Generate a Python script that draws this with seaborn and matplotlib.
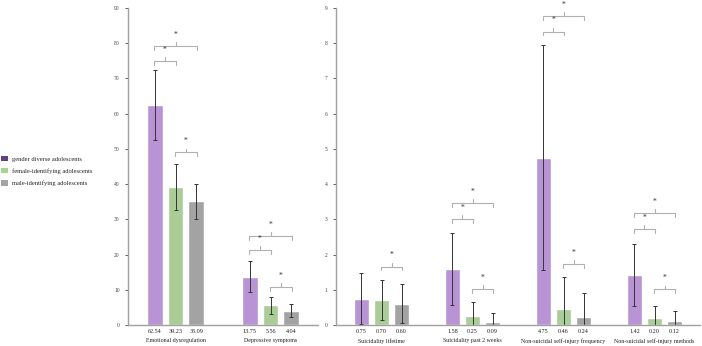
import numpy as np
import pandas as pd
import matplotlib
matplotlib.use("Agg")
import matplotlib.pyplot as plt
import seaborn as sns
from matplotlib.patches import Patch

# groups and colours
groups = ["gender diverse adolescents", "female-identifying adolescents", "male-identifying adolescents"]
bar_colors = ["#b98ade", "#a8d58e", "#a3a3a3"]
legend_colors = ["#5e4380", "#a8d58e", "#a3a3a3"]

# left panel
left_cats = ["Emotional dysregulation", "Depressive symptoms"]
left_means = [[62.54, 13.75], [39.23, 5.56], [35.09, 4.04]]
left_sd = [[9.9, 4.45], [6.55, 2.5], [4.9, 1.9]]

# right panel
right_cats = ["Suicidality lifetime", "Suicidality past 2 weeks",
              "Non-suicidal self-injury frequency", "Non-suicidal self-injury methods"]
right_means = [[0.75, 1.58, 4.75, 1.42], [0.70, 0.25, 0.46, 0.20], [0.60, 0.09, 0.24, 0.12]]
right_sd = [[0.72, 1.02, 3.19, 0.89], [0.57, 0.40, 0.91, 0.35], [0.55, 0.25, 0.67, 0.28]]

# significance brackets: (category index, group a, group b, height)
left_brackets = [(0, 0, 1, 75.0), (0, 0, 2, 79.2), (0, 1, 2, 49.0),
                 (1, 0, 1, 21.2), (1, 0, 2, 25.2), (1, 1, 2, 10.8)]
right_brackets = [(0, 1, 2, 1.66),
                  (1, 0, 1, 3.01), (1, 0, 2, 3.47), (1, 1, 2, 1.03),
                  (2, 0, 1, 8.33), (2, 0, 2, 8.78), (2, 1, 2, 1.74),
                  (3, 0, 1, 2.72), (3, 0, 2, 3.17), (3, 1, 2, 1.01)]

sns.set_style("white")
plt.rcParams["font.family"] = ["Liberation Serif", "DejaVu Serif"]

fig = plt.figure(figsize=(7.02, 3.46), dpi=100)
ax1 = fig.add_axes([128 / 702, 1 - 325 / 346, 190 / 702, 317 / 346])
ax2 = fig.add_axes([336 / 702, 1 - 325 / 346, 364 / 702, 317 / 346])


def make_df(cats, means):
    rows = []
    for g, vals in zip(groups, means):
        for c, v in zip(cats, vals):
            rows.append({"cat": c, "group": g, "value": v})
    return pd.DataFrame(rows)


def bracket(ax, x1, x2, y, d, star_off):
    xm = (x1 + x2) / 2
    kw = dict(color="#b0b0b0", lw=0.8, clip_on=False)
    ax.plot([x1, x1, x2, x2], [y - d, y, y, y - d], **kw)
    ax.plot([xm, xm], [y, y + d], **kw)
    ax.text(xm, y + star_off, "*", ha="center", va="center", fontsize=5.5,
            color="#333333", clip_on=False)


def panel(ax, cats, means, sds, brackets, ymax, step, d, star_off):
    df = make_df(cats, means)
    sns.barplot(data=df, x="cat", y="value", hue="group", palette=bar_colors,
                errorbar=None, width=0.66, gap=0.24, ax=ax, legend=False)
    bar_conts = list(ax.containers)
    centers = []
    for gi, cont in enumerate(bar_conts):
        xs = [p.get_x() + p.get_width() / 2 for p in cont.patches]
        centers.append(xs)
        ax.errorbar(xs, means[gi], yerr=sds[gi], fmt="none", ecolor="#333333",
                    elinewidth=0.7, capsize=1.5, capthick=0.7)
        for x, v in zip(xs, means[gi]):
            ax.text(x, -0.012, f"{v:.2f}", transform=ax.get_xaxis_transform(),
                    ha="center", va="top", fontsize=4.4, color="#222222")
    for ci, a, b, y in brackets:
        bracket(ax, centers[a][ci] - 0.01, centers[b][ci] + 0.01, y, d, star_off)
    ax.set_ylim(0, ymax)
    ax.set_xlim(-0.5, len(cats) - 0.5)
    ax.set_yticks(np.arange(0, ymax + step / 2, step))
    ax.set_xlabel("")
    ax.set_ylabel("")
    ax.tick_params(axis="x", length=0, pad=9.5, labelsize=4.3, colors="#222222")
    ax.tick_params(axis="y", length=2, width=0.6, pad=4, labelsize=4.0,
                   colors="#444444", left=True)
    for s in ["top", "right"]:
        ax.spines[s].set_visible(False)
    for s in ["left", "bottom"]:
        ax.spines[s].set_color("#a0a0a0")
        ax.spines[s].set_linewidth(1.0)


panel(ax1, left_cats, left_means, left_sd, left_brackets, 90, 10, 1.1, 3.2)
panel(ax2, right_cats, right_means, right_sd, right_brackets, 9, 1, 0.11, 0.32)

handles = [Patch(facecolor=c, edgecolor="none") for c in legend_colors]
fig.legend(handles, groups, loc="center left", bbox_to_anchor=(0.0, 0.506),
           frameon=False, fontsize=4.7, handlelength=1.1, handleheight=0.9,
           handletextpad=0.6, labelspacing=0.95, borderpad=0.2, borderaxespad=0)

fig.savefig("out.png", dpi=100)
